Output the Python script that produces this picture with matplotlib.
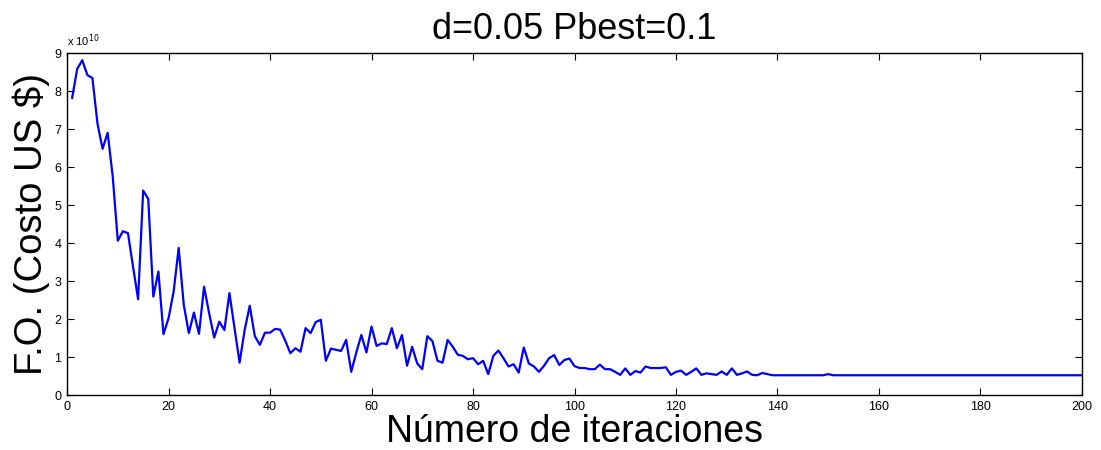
import matplotlib
matplotlib.use("Agg")
import matplotlib.pyplot as plt
import numpy as np
from matplotlib.ticker import ScalarFormatter

plt.rcParams["font.family"] = ["Liberation Sans", "DejaVu Sans"]

# objective function value per iteration, in units of 1e10 US$
cost_e10 = [
    7.82, 8.58, 8.81, 8.42, 8.34, 7.14, 6.48, 6.90, 5.75, 4.06,
    4.31, 4.26, 3.38, 2.52, 5.38, 5.16, 2.59, 3.25, 1.60, 2.02,
    2.72, 3.87, 2.37, 1.63, 2.17, 1.61, 2.85, 2.15, 1.51, 1.93,
    1.71, 2.68, 1.76, 0.85, 1.71, 2.35, 1.55, 1.32, 1.64, 1.64,
    1.74, 1.72, 1.43, 1.10, 1.23, 1.14, 1.76, 1.63, 1.92, 1.98,
    0.90, 1.22, 1.19, 1.16, 1.45, 0.61, 1.12, 1.58, 1.12, 1.80,
    1.29, 1.36, 1.34, 1.76, 1.23, 1.58, 0.77, 1.27, 0.83, 0.68,
    1.55, 1.42, 0.90, 0.85, 1.45, 1.27, 1.06, 1.03, 0.94, 0.97,
    0.81, 0.90, 0.55, 1.03, 1.17, 0.97, 0.75, 0.81, 0.59, 1.25,
    0.83, 0.75, 0.61, 0.77, 0.97, 1.05, 0.79, 0.92, 0.96, 0.76,
    0.71, 0.71, 0.68, 0.68, 0.80, 0.68, 0.68, 0.61, 0.53, 0.70,
    0.53, 0.63, 0.59, 0.75, 0.71, 0.71, 0.71, 0.73, 0.53, 0.61,
    0.64, 0.53, 0.61, 0.70, 0.53, 0.57, 0.55, 0.53, 0.62, 0.53,
    0.70, 0.53, 0.57, 0.62, 0.53, 0.52, 0.58, 0.55, 0.52, 0.52,
    0.52, 0.52, 0.52, 0.52, 0.52, 0.52, 0.52, 0.52, 0.52, 0.55,
    0.52, 0.52, 0.52, 0.52, 0.52, 0.52, 0.52, 0.52, 0.52, 0.52,
    0.52, 0.52, 0.52, 0.52, 0.52, 0.52, 0.52, 0.52, 0.52, 0.52,
    0.52, 0.52, 0.52, 0.52, 0.52, 0.52, 0.52, 0.52, 0.52, 0.52,
    0.52, 0.52, 0.52, 0.52, 0.52, 0.52, 0.52, 0.52, 0.52, 0.52,
    0.52, 0.52, 0.52, 0.52, 0.52, 0.52, 0.52, 0.52, 0.52, 0.52,
]
iterations = np.arange(1, len(cost_e10) + 1)
cost = np.array(cost_e10) * 1e10

x_ticks = list(range(0, 201, 20))
y_ticks = [v * 1e10 for v in range(0, 10)]

fig = plt.figure(figsize=(11.01, 4.5), dpi=100)
ax = fig.add_axes([0.0609, 0.1222, 0.9218, 0.76])

ax.plot(iterations, cost, color="#0000ff", linewidth=1.6)

ax.set_xlim(0, 200)
ax.set_ylim(0, 9e10)
ax.set_xticks(x_ticks)
ax.set_yticks(y_ticks)

fmt = ScalarFormatter(useMathText=False)
fmt.set_powerlimits((0, 0))
ax.yaxis.set_major_formatter(fmt)
ax.yaxis.get_offset_text().set_visible(False)
ax.text(0.0, 1.012, r"x 10$^{10}$", transform=ax.transAxes,
        fontsize=8, ha="left", va="bottom")

ax.tick_params(direction="in", length=5, width=0.8, labelsize=9,
               top=True, right=True, pad=4)
for side in ax.spines.values():
    side.set_linewidth(1.0)

ax.set_title("d=0.05 Pbest=0.1", fontsize=26, pad=10)
ax.set_xlabel("Número de iteraciones", fontsize=27, labelpad=1)
ax.set_ylabel("F.O. (Costo US $)", fontsize=27.5, labelpad=3)

fig.savefig("out.png", dpi=100)
